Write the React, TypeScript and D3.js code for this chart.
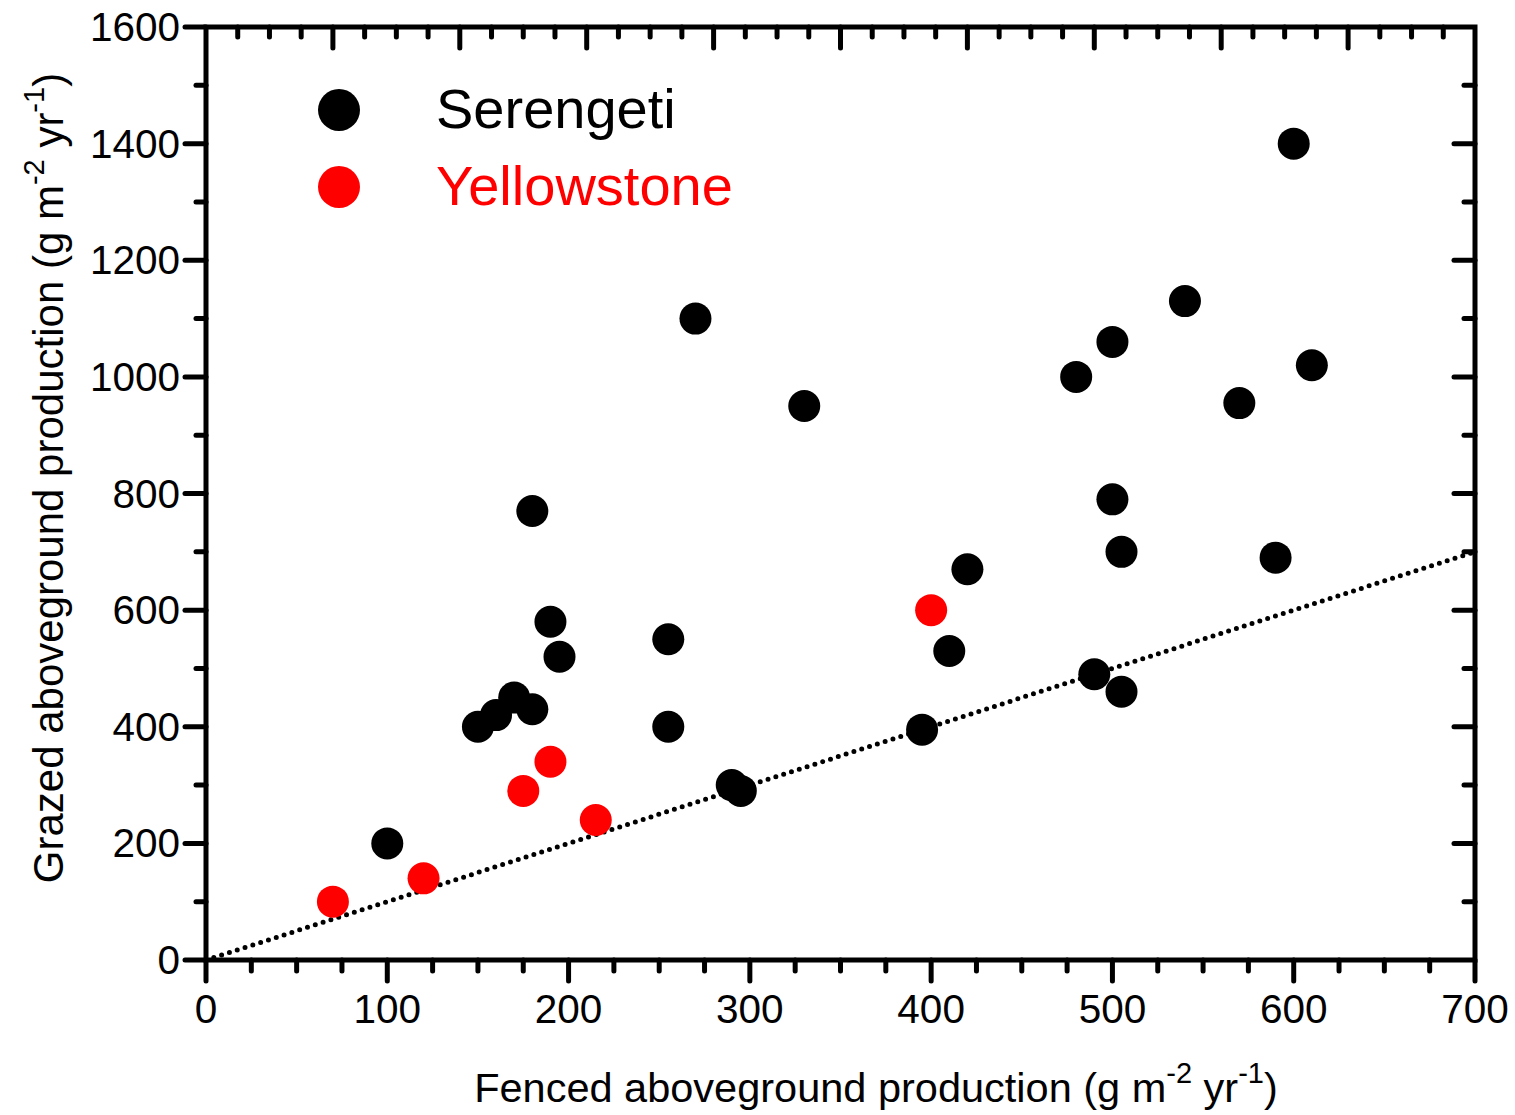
import React from 'react';
import * as d3 from 'd3';

// Serengeti sites (fenced vs grazed production)
const serengetiX = [100, 150, 160, 170, 180, 180, 190, 195, 255, 255, 270, 290, 295, 330, 395, 410, 420, 480, 490, 500, 500, 505, 505, 540, 570, 590, 600, 610];
const serengetiY = [200, 400, 420, 450, 430, 770, 580, 520, 550, 400, 1100, 300, 290, 950, 395, 530, 670, 1000, 490, 1060, 790, 700, 460, 1130, 955, 690, 1400, 1020];

// Yellowstone sites
const yellowX = [70, 120, 175, 190, 215, 400];
const yellowY = [100, 140, 290, 340, 240, 600];

// 1:1 line
const lineX = [0, 700];
const lineY = [0, 700];

const xTicks = [0, 100, 200, 300, 400, 500, 600, 700];
const yTicks = [0, 200, 400, 600, 800, 1000, 1200, 1400, 1600];

const W = 1515;
const H = 1115;
const left = 206, right = 1475, top = 27, bottom = 960;
const font = "'Liberation Sans', Arial, sans-serif";

const App = () => {
  const x = d3.scaleLinear().domain([0, 700]).range([left, right]);
  const y = d3.scaleLinear().domain([0, 1600]).range([bottom, top]);
  // top axis has its own ten-part division
  const xt = d3.scaleLinear().domain([0, 10]).range([left, right]);

  const xMinor = d3.range(0, 701, 25).filter(v => v % 100 !== 0);
  const yMinor = d3.range(100, 1600, 200);
  const topMajor = d3.range(1, 10);
  const topMinor = d3.range(0, 10.01, 0.25).filter(v => v % 1 !== 0);

  const line = d3.line<number>()
    .x(d => x(lineX[d]))
    .y(d => y(lineY[d]));

  const serengeti = serengetiX.map((v, i) => [v, serengetiY[i]]);
  const yellow = yellowX.map((v, i) => [v, yellowY[i]]);

  const tick = { stroke: '#000', strokeWidth: 5, strokeLinecap: 'round' as const };

  return (
    <svg width={W} height={H} style={{ position: 'absolute', left: 0, top: 0, background: '#fff' }} fontFamily={font}>
      {/* bottom axis */}
      {xTicks.map(t => (
        <g key={'xt' + t}>
          <line x1={x(t)} x2={x(t)} y1={bottom} y2={bottom + 21} {...tick} />
          <text x={x(t)} y={1023} fontSize={40.5} textAnchor="middle">{t}</text>
        </g>
      ))}
      {xMinor.map(t => (
        <line key={'xm' + t} x1={x(t)} x2={x(t)} y1={bottom} y2={bottom + 11} {...tick} />
      ))}

      {/* top axis */}
      {topMajor.map(t => (
        <line key={'tt' + t} x1={xt(t)} x2={xt(t)} y1={top} y2={top + 21} {...tick} />
      ))}
      {topMinor.map(t => (
        <line key={'tm' + t} x1={xt(t)} x2={xt(t)} y1={top} y2={top + 10} {...tick} />
      ))}

      {/* left axis */}
      {yTicks.map(t => (
        <g key={'yt' + t}>
          <line x1={left - 21} x2={left} y1={y(t)} y2={y(t)} {...tick} />
          <text x={180} y={y(t) + 14} fontSize={40.5} textAnchor="end">{t}</text>
        </g>
      ))}
      {yMinor.map(t => (
        <line key={'ym' + t} x1={left - 10} x2={left} y1={y(t)} y2={y(t)} {...tick} />
      ))}

      {/* right axis */}
      {yTicks.slice(1, -1).map(t => (
        <line key={'rt' + t} x1={right - 21} x2={right} y1={y(t)} y2={y(t)} {...tick} />
      ))}
      {yMinor.map(t => (
        <line key={'rm' + t} x1={right - 11} x2={right} y1={y(t)} y2={y(t)} {...tick} />
      ))}

      {/* frame */}
      <rect x={left} y={top} width={right - left} height={bottom - top} fill="none" stroke="#000" strokeWidth={5} />

      {/* 1:1 line */}
      <path d={line([0, 1]) || ''} fill="none" stroke="#000" strokeWidth={5} strokeLinecap="round" strokeDasharray="0 8.2" />

      {serengeti.map((d, i) => (
        <circle key={'s' + i} cx={x(d[0])} cy={y(d[1])} r={16} fill="#000" />
      ))}
      {yellow.map((d, i) => (
        <circle key={'y' + i} cx={x(d[0])} cy={y(d[1])} r={16} fill="#ff0000" />
      ))}

      {/* legend */}
      <circle cx={339} cy={110} r={21} fill="#000" />
      <text x={436} y={128} fontSize={56}>Serengeti</text>
      <circle cx={339} cy={187} r={21} fill="#ff0000" />
      <text x={436} y={205} fontSize={56} fill="#ff0000">Yellowstone</text>

      {/* axis titles */}
      <text x={876} y={1102} fontSize={41.5} textAnchor="middle">
        Fenced aboveground production (g m<tspan dy={-19} fontSize={29}>-2</tspan><tspan dy={19}> yr</tspan><tspan dy={-19} fontSize={29}>-1</tspan><tspan dy={19}>)</tspan>
      </text>
      <text transform={`translate(63, 478) rotate(-90)`} fontSize={42} textAnchor="middle">
        Grazed aboveground production (g m<tspan dy={-19} fontSize={29}>-2</tspan><tspan dy={19}> yr</tspan><tspan dy={-19} fontSize={29}>-1</tspan><tspan dy={19}>)</tspan>
      </text>
    </svg>
  );
};

export default App;
